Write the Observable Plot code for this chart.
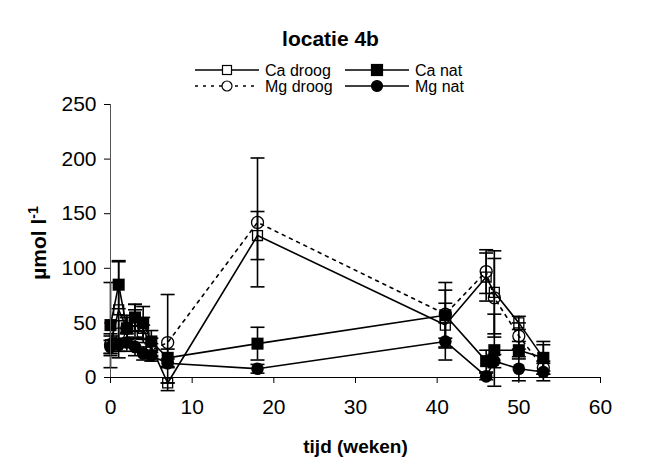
<!DOCTYPE html>
<html><head><meta charset="utf-8">
<script src="https://cdn.jsdelivr.net/npm/d3@7"></script>
<script src="https://cdn.jsdelivr.net/npm/@observablehq/plot@0.6"></script>
<style>
body{margin:0;background:#fff;font-family:"Liberation Sans",Arial,sans-serif;}
#wrap{position:relative;width:661px;height:468px;overflow:hidden;}
#title{position:absolute;left:0;width:661px;top:27px;text-align:center;font-weight:bold;font-size:21px;line-height:24px;}
#ylab{position:absolute;left:38px;top:243px;transform:translate(-50%,-50%) rotate(-90deg);font-weight:bold;font-size:21px;white-space:nowrap;}
#ylab sup{font-size:14px;}
#legend{position:absolute;left:0;top:0;}
#chart{position:absolute;left:0;top:0;}
</style></head><body>
<div id="wrap"><div id="chart"></div><div id="title">locatie 4b</div><div id="ylab">µmol l<sup>-1</sup></div><svg id="legend" width="661" height="100"></svg></div>
<script>
const weeks = [0, 1, 2, 3, 4, 5, 7, 18, 41, 46, 47, 50, 53];
const caDroog    = [30, 62, 45, 52, 45, 28, -5, 130, 48, 92, 78, 50, 18];
const caDroogErr = [10, 44, 12, 15, 10, 8, 0, 22, 20, 22, 38, 6, 15];
const caNat      = [48, 85, 45, 55, 50, 33, 18, 31, 57, 15, 25, 25, 18];
const caNatErr   = [39, 22, 10, 12, 15, 10, 8, 15, 30, 10, 33, 8, 12];
const mgDroog    = [30, 40, 45, 52, 40, 25, 32, 142, 58, 97, 73, 38, 9];
const mgDroogErr = [8, 12, 10, 10, 8, 6, 44, 59, 22, 20, 36, 12, 6];
const mgNat      = [28, 30, 32, 28, 22, 20, 13, 8, 33, 1, 15, 8, 5];
const mgNatErr   = [6, 6, 8, 8, 6, 5, 4, 4, 17, 3, 6, 11, 8];
const seriesNames = ["Ca droog", "Ca nat", "Mg droog", "Mg nat"];
const xTicks = [0, 10, 20, 30, 40, 50, 60];
const yTicks = [0, 50, 100, 150, 200, 250];

const mk = (name, vals, errs) => weeks.map((w, i) => ({series: name, week: w, value: vals[i], err: errs[i]}));
const sCaD = mk("Ca droog", caDroog, caDroogErr);
const sCaN = mk("Ca nat", caNat, caNatErr);
const sMgD = mk("Mg droog", mgDroog, mgDroogErr);
const sMgN = mk("Mg nat", mgNat, mgNatErr);

const cap = {draw(ctx, size) { const r = Math.sqrt(size / Math.PI); ctx.moveTo(-r, 0); ctx.lineTo(r, 0); }};
const FONT = "Liberation Sans, Arial, sans-serif";

function errMarks(s) {
  return [
    Plot.ruleX(s, {x: "week", y1: d => d.value - d.err, y2: d => d.value + d.err, stroke: "black", strokeWidth: 1.6}),
    Plot.dot(s, {x: "week", y: d => d.value + d.err, symbol: cap, r: 7, stroke: "black", strokeWidth: 1.6}),
    Plot.dot(s, {x: "week", y: d => d.value - d.err, symbol: cap, r: 7, stroke: "black", strokeWidth: 1.6})
  ];
}

const chart = Plot.plot({
  width: 661, height: 468,
  marginTop: 104, marginBottom: 91, marginLeft: 110, marginRight: 61,
  style: {fontFamily: FONT, background: "white", overflow: "visible"},
  x: {domain: [0, 60]},
  y: {domain: [0, 250]},
  marks: [
    Plot.line(sCaD, {x: "week", y: "value", stroke: "black", strokeWidth: 1.6}),
    Plot.line(sCaN, {x: "week", y: "value", stroke: "black", strokeWidth: 1.6}),
    Plot.line(sMgD, {x: "week", y: "value", stroke: "black", strokeWidth: 1.6, strokeDasharray: "3,5"}),
    Plot.line(sMgN, {x: "week", y: "value", stroke: "black", strokeWidth: 1.6}),
    ...errMarks(sCaD), ...errMarks(sCaN), ...errMarks(sMgD), ...errMarks(sMgN),
    Plot.dot(sCaD, {x: "week", y: "value", symbol: "square", r: 5.6, fill: "none", stroke: "black", strokeWidth: 1.3}),
    Plot.dot(sMgD, {x: "week", y: "value", symbol: "circle", r: 6, fill: "none", stroke: "black", strokeWidth: 1.3}),
    Plot.dot(sCaN, {x: "week", y: "value", symbol: "square", r: 6.8, fill: "black"}),
    Plot.dot(sMgN, {x: "week", y: "value", symbol: "circle", r: 6.3, fill: "black"}),
    Plot.ruleY([0], {x1: 0, x2: 60, stroke: "black", strokeWidth: 1}),
    Plot.ruleX([0], {y1: 0, y2: 250, stroke: "#555", strokeWidth: 1}),
    Plot.axisX({ticks: xTicks, tickSize: 6, tickPadding: 16, fontSize: 21, label: null}),
    Plot.axisY({ticks: yTicks, tickSize: 6, tickPadding: 8, fontSize: 21, label: null}),
    Plot.text(["tijd (weken)"], {frameAnchor: "bottom", dy: 75, fontSize: 19, fontWeight: "bold", letterSpacing: "2px"})
  ]
});
document.getElementById("chart").appendChild(chart);

// legend
const lg = d3.select("#legend");
const rows = [
  {name: seriesNames[0], x0: 195, y: 70, symbol: "square", filled: false, dash: null},
  {name: seriesNames[1], x0: 345, y: 70, symbol: "square", filled: true, dash: null},
  {name: seriesNames[2], x0: 195, y: 86, symbol: "circle", filled: false, dash: "3,5"},
  {name: seriesNames[3], x0: 345, y: 86, symbol: "circle", filled: true, dash: null}
];
for (const r of rows) {
  lg.append("line").attr("x1", r.x0).attr("x2", r.x0 + 64).attr("y1", r.y).attr("y2", r.y)
    .attr("stroke", "black").attr("stroke-width", 1.5).attr("stroke-dasharray", r.dash);
  const cx = r.x0 + 32;
  if (r.symbol === "square") {
    const s = r.filled ? 11 : 9;
    lg.append("rect").attr("x", cx - s/2).attr("y", r.y - s/2).attr("width", s).attr("height", s)
      .attr("fill", r.filled ? "black" : "white").attr("stroke", "black").attr("stroke-width", 1.2);
  } else {
    lg.append("circle").attr("cx", cx).attr("cy", r.y).attr("r", r.filled ? 5.5 : 5)
      .attr("fill", r.filled ? "black" : "white").attr("stroke", "black").attr("stroke-width", 1.2);
  }
  lg.append("text").attr("x", r.x0 + 70).attr("y", r.y).attr("dy", "0.35em")
    .attr("font-family", FONT).attr("font-size", 16).text(r.name);
}
</script>
</body></html>
